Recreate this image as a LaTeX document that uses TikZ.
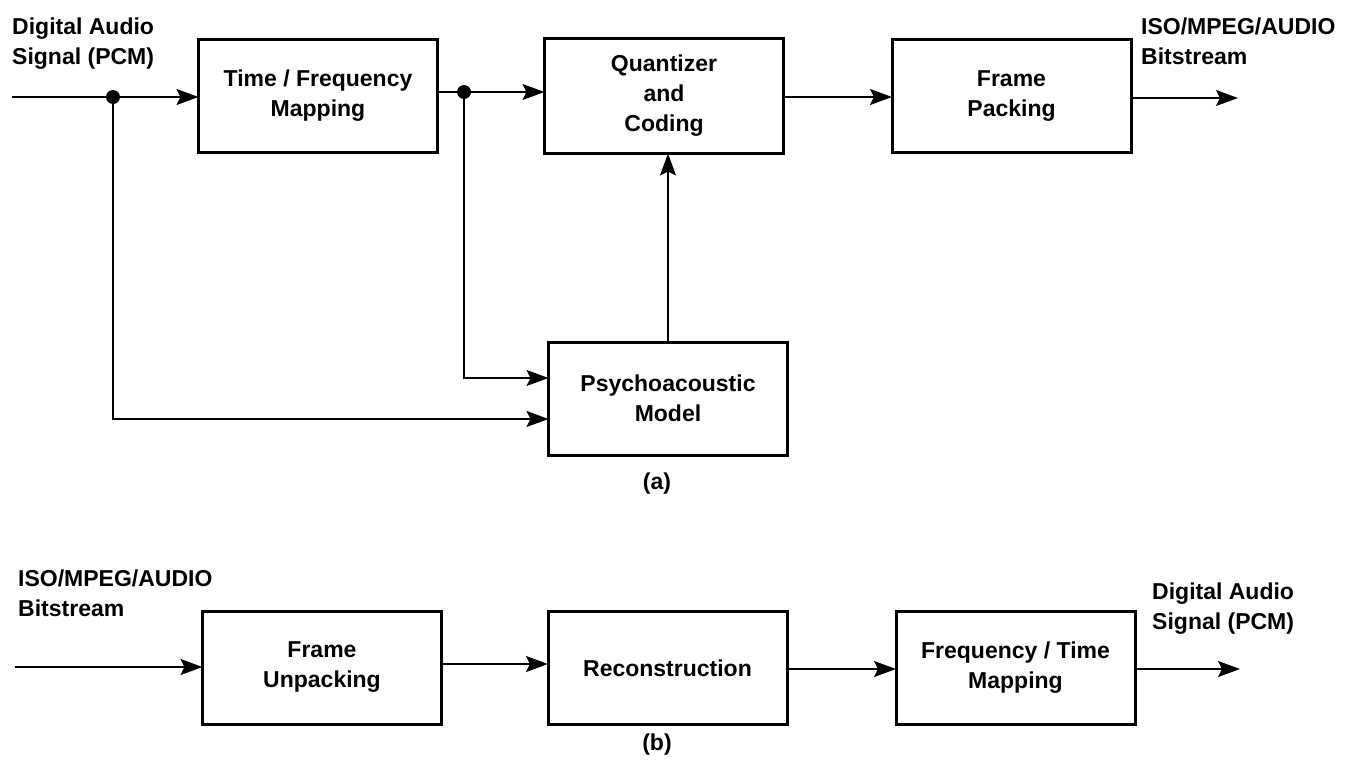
\documentclass[tikz,border=0pt]{standalone}
\usepackage{fontspec}
\setmainfont{Liberation Sans}
\usetikzlibrary{arrows.meta,calc}
\begin{document}
\begin{tikzpicture}[x=1pt,y=-1pt,
  every node/.style={font=\fontsize{23}{30}\selectfont\bfseries},
  blk/.style={draw,line width=3pt,minimum width=239pt,minimum height=113pt,align=center,inner sep=0pt,outer sep=0pt},
  lbl/.style={align=left,inner sep=0pt,anchor=north west},
  conn/.style={line width=1.6pt},
  arr/.style={conn,-{Stealth[length=22pt,width=16pt,inset=4pt]}},
  junc/.style={circle,fill,inner sep=0pt,minimum size=14pt}
]
\useasboundingbox (0,0) rectangle (1349,763);
% ---------- (a) encoder ----------
\node[blk] (tf) at (318,96) {Time / Frequency\\Mapping};
\node[blk,minimum height=115pt] (q) at (664,96) {Quantizer\\and\\Coding};
\node[blk] (fp) at (1011.5,96) {Frame\\Packing};
\node[blk] (ps) at (668,398.5) {Psychoacoustic\\Model};
\node[lbl] (inAl) at (12,18) {Digital Audio\\Signal (PCM)};
\node[lbl] (outAl) at (1141,18) {ISO/MPEG/AUDIO\\Bitstream};
\node (capa) at (657,484) {(a)};
\coordinate (inA) at (12,97);
\coordinate (outA) at (1238,98);
\node[junc] (d1) at (113,97) {};
\node[junc] (d2) at (464,92) {};
\draw[arr] (inA) -- (inA -| tf.west);
\draw[arr] (tf.east |- d2) -- (q.west |- d2);
\draw[arr] (q.east |- 0,97) -- (fp.west |- 0,97);
\draw[arr] (fp.east |- outA) -- (outA);
\draw[arr] (d1.center) |- ([yshift=-20.5pt]ps.west);
\draw[arr] (d2.center) |- ([yshift=20.5pt]ps.west);
\draw[arr] (ps.north) -- (ps.north |- q.south);
% ---------- (b) decoder ----------
\node[blk] (fu) at (322,667.5) {Frame\\Unpacking};
\node[blk] (rc) at (667.5,668) {Reconstruction};
\node[blk] (ft) at (1015.5,667.5) {Frequency / Time\\Mapping};
\node[lbl] (inBl) at (18,570) {ISO/MPEG/AUDIO\\Bitstream};
\node[lbl] (outBl) at (1152,583) {Digital Audio\\Signal (PCM)};
\node (capb) at (657,745) {(b)};
\coordinate (inB) at (15,667);
\coordinate (outB) at (1240,669);
\draw[arr] (inB) -- (inB -| fu.west);
\draw[arr] (fu.east |- 0,664) -- (rc.west |- 0,664);
\draw[arr] (rc.east |- 0,669) -- (ft.west |- 0,669);
\draw[arr] (ft.east |- outB) -- (outB);
\end{tikzpicture}
\end{document}
